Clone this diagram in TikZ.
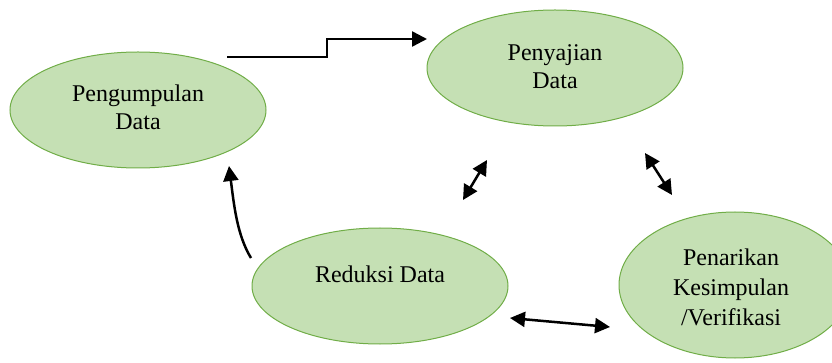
\documentclass[tikz,border=0pt]{standalone}
\usepackage{fontspec}
\setmainfont{Liberation Serif}
\usetikzlibrary{shapes.geometric,arrows.meta}
\definecolor{leaf}{HTML}{C5E0B4}
\definecolor{leafedge}{HTML}{70AD47}
\tikzset{
  stage/.style={ellipse, draw=leafedge, fill=leaf, line width=1pt, inner sep=0pt},
  caption/.style={align=center, anchor=base, inner sep=0pt,
    font=\fontsize{24}{28}\selectfont},
  flow/.style={line width=2.5pt, -{Triangle[length=15pt,width=15pt]}},
  twoway/.style={line width=2.5pt,
    {Triangle[length=15pt,width=15pt]}-{Triangle[length=15pt,width=15pt]}},
}
\begin{document}
\begin{tikzpicture}[x=1pt,y=-1pt]
  \useasboundingbox (0,0) rectangle (832,363);
  \clip (0,0) rectangle (832,363);

  % the four stages
  \node[stage, minimum width=256pt, minimum height=116pt] (collect) at (138,110) {};
  \node[stage, minimum width=256pt, minimum height=116pt] (display) at (555,68) {};
  \node[stage, minimum width=256pt, minimum height=116pt] (reduce)  at (380,286) {};
  \node[stage, minimum width=232pt, minimum height=146pt] (conclude) at (735,285) {};

  % captions, placed by the baseline of their last line
  \node[caption] (collecttext) at (138,130) {Pengumpulan\\Data};
  \node[caption] (displaytext) at (555,89) {Penyajian\\Data};
  \node[caption] (reducetext)  at (380,283) {Reduksi Data};
  \node[caption, font=\fontsize{24}{30}\selectfont] (concludetext) at (731,325)
    {Penarikan\\Kesimpulan\\/Veri{}fikasi};

  % connector end points
  \coordinate (s1) at (227,57);
  \coordinate (e1) at (427,39);
  \coordinate (s2) at (251,258);
  \coordinate (e2) at (229,166);
  \coordinate (a3) at (463,200);
  \coordinate (b3) at (487,160);
  \coordinate (a4) at (645,153);
  \coordinate (b4) at (672,195);
  \coordinate (a5) at (510,318);
  \coordinate (b5) at (610,327);

  % connectors
  \draw[flow] (s1) -- (327,57) -- (327,39) -- (e1);
  \draw[flow] (s2) .. controls (237,235) and (234,205) .. (e2);
  \draw[twoway] (a3) -- (b3);
  \draw[twoway] (a4) -- (b4);
  \draw[twoway] (a5) -- (b5);
\end{tikzpicture}
\end{document}
